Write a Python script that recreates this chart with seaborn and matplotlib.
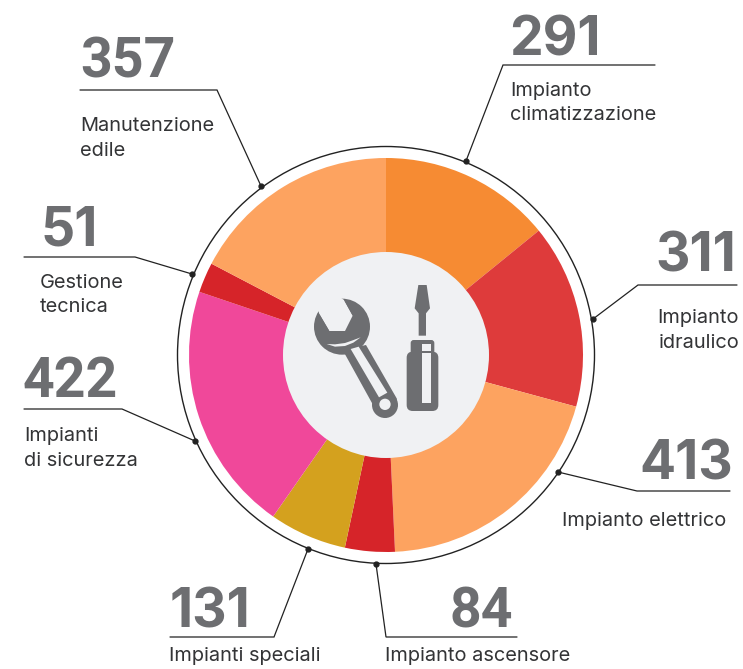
import matplotlib
matplotlib.use("Agg")
import matplotlib.pyplot as plt
import seaborn as sns
from matplotlib.patches import Circle, FancyBboxPatch, Polygon

# dati, in senso orario dall'alto
labels = ["Impianto\nclimatizzazione", "Impianto\nidraulico", "Impianto elettrico",
          "Impianto ascensore", "Impianti speciali", "Impianti\ndi sicurezza",
          "Gestione\ntecnica", "Manutenzione\nedile"]
values = [291, 311, 413, 84, 131, 422, 51, 357]
colors = ["#F68B33", "#DE3B3B", "#FDA360", "#D62429", "#D4A11E", "#F0489A", "#D62429", "#FDA360"]

GREY = "#6D6E71"
DARK = "#333436"
HOLE = "#F0F1F3"
H = 669


def px(x, y):
    # coordinate in pixel del riferimento -> dati (asse y verso l'alto)
    return (x, H - y)


def iz(x, y):
    return px(280 + x / 3, 250 + y / 3)


# posizioni: (x num, baseline num, ha, x testo, baseline prima riga, leader)
layout = [
    (509, 55, "left", 510, 96, [(655, 65), (503, 65), (466, 161)]),
    (736, 271, "right", 739, 323, [(737, 285), (638, 285), (593, 319)]),
    (639, 479, "left", 562, 526, [(730, 491), (637, 491), (558, 472)]),
    (450, 627, "left", 385, 661, [(517, 637), (386, 637), (376, 564)]),
    (170, 627, "left", 169, 661, [(170, 637), (274, 637), (308, 549)]),
    (23, 397, "left", 24, 441, [(24, 409), (122, 409), (195, 441)]),
    (40, 246, "left", 40, 288, [(24, 257), (135, 257), (192, 274)]),
    (80, 78, "left", 80, 131, [(80, 90), (217, 90), (261, 186)]),
]

sns.set_theme(style="white")
plt.rcParams["font.family"] = ["Inter", "DejaVu Sans"]

fig = plt.figure(figsize=(7.43, 6.69), dpi=100)
ax = fig.add_axes([0, 0, 1, 1])

cx, cy = px(386, 355)
ax.add_patch(Circle((cx, cy), 208.5, fc="none", ec="#222222", lw=1))
ax.pie(values, colors=colors, startangle=90, counterclock=False, center=(cx, cy), radius=197,
       frame=True, wedgeprops={"linewidth": 0})
ax.set_xlim(0, 743)
ax.set_ylim(0, H)
ax.set_aspect("equal")
ax.axis("off")
ax.add_patch(Circle((cx, cy), 103, fc=HOLE, ec="none", zorder=3))

for val, lab, (nx, ny, ha, tx, ty, pts) in zip(values, labels, layout):
    xs, ys = zip(*[px(*p) for p in pts])
    ax.plot(xs, ys, color="#222222", lw=0.9, solid_joinstyle="miter", zorder=4)
    ax.plot(xs[-1], ys[-1], "o", color="#222222", ms=3.5, zorder=4)
    # Roboto ha l'1 largo come le altre cifre, Inter no
    if "1" in str(val):
        ax.text(*px(nx, ny), str(val), fontsize=38.5, fontweight="bold", family="Inter",
                color=GREY, ha=ha, va="baseline")
    else:
        ax.text(*px(nx, ny), str(val), fontsize=40, fontweight="bold", family="Roboto",
                color=GREY, ha=ha, va="baseline")
    for i, line in enumerate(lab.split("\n")):
        ax.text(*px(tx, ty + i * 24.5), line, fontsize=14.4, color=DARK, ha=ha, va="baseline")

# icona: cacciavite
ic = {"fc": GREY, "ec": "none", "zorder": 5}
lt = {"fc": HOLE, "ec": "none", "zorder": 6}
top = {"fc": GREY, "ec": "none", "zorder": 7}
ax.add_patch(Polygon([iz(415, 105), iz(440, 105), iz(450, 175), iz(438, 190), iz(438, 257),
                      iz(416, 257), iz(416, 190), iz(404, 175)], **ic))
x0, y0 = iz(380, 483)
ax.add_patch(FancyBboxPatch((x0 + 6, y0 + 6), 95 / 3 - 12, 178 / 3 - 12,
                            boxstyle="round,pad=6", **ic))
x0, y0 = iz(392, 320)
ax.add_patch(FancyBboxPatch((x0 + 3, y0 + 3), 71 / 3 - 6, 50 / 3 - 6,
                            boxstyle="round,pad=3", **ic))
ax.add_patch(Polygon([iz(427, 281), iz(452, 281), iz(452, 304), iz(427, 304)], **lt))
ax.add_patch(Polygon([iz(427, 309), iz(452, 309), iz(452, 460), iz(427, 460)], **lt))

# icona: chiave inglese
ax.add_patch(Circle(iz(186, 230), 84 / 3, **ic))
ax.add_patch(Polygon([iz(118, 192), iz(148, 243), iz(195, 243), iz(218, 197), iz(192, 150),
                      iz(150, 120), iz(105, 150)], **lt))
ax.add_patch(Polygon([iz(118, 192), iz(148, 243), iz(105, 225)], **top))
ax.add_patch(Polygon([iz(192, 150), iz(235, 165), iz(218, 197)], **top))
ax.add_patch(Polygon([iz(188, 300), iz(258, 285), iz(350, 445), iz(352, 470), iz(320, 503),
                      iz(282, 470)], **ic))
ax.add_patch(Circle(iz(315, 465), 39 / 3, **ic))
ax.add_patch(Polygon([iz(212, 297), iz(236, 290), iz(322, 428), iz(297, 442)], **lt))
ax.add_patch(Polygon([iz(140, 282), iz(165, 290), iz(195, 288), iz(220, 278), iz(242, 262),
                      iz(218, 271), iz(195, 279), iz(165, 283)], **lt))
ax.add_patch(Circle(iz(315, 463), 17 / 3, **lt))

fig.savefig("out.png", dpi=100, facecolor="white")
